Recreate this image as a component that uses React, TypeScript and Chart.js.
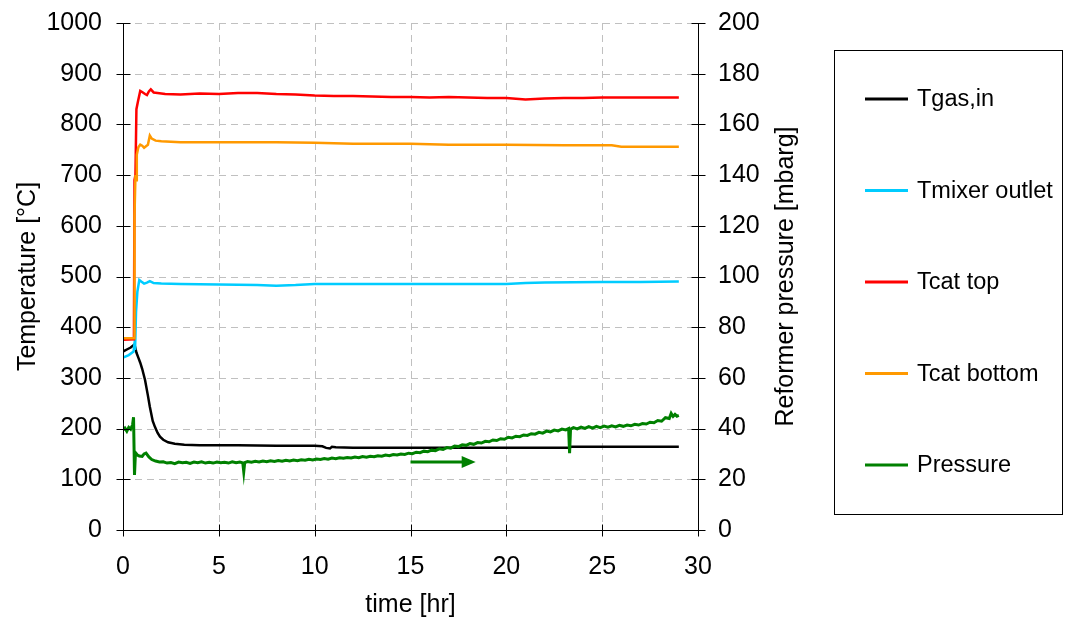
import React, { useEffect, useRef } from "react";
import { Chart, registerables } from "chart.js";

Chart.register(...registerables);

// Axis ticks
const timeTicks = [0, 5, 10, 15, 20, 25, 30];
const temperatureTicks = [0, 100, 200, 300, 400, 500, 600, 700, 800, 900, 1000];
const pressureTicks = [0, 20, 40, 60, 80, 100, 120, 140, 160, 180, 200];

// Tgas,in [°C]
const tgasTime = [0, 0.2, 0.4, 0.6, 0.7, 0.8, 0.9, 1.0, 1.15, 1.3, 1.4, 1.55, 1.67, 1.8, 1.93, 2.1, 2.35, 2.7, 3.2, 4, 6, 8, 10, 10.4, 10.6, 10.8, 10.9, 11.1, 12, 15, 18, 20, 23.2, 23.4, 25, 29];
const tgasValues = [352, 356, 360, 366, 350, 340, 330, 318, 296, 265, 243, 215, 203, 192, 184, 178, 173, 170, 168, 167, 167, 166, 166, 165, 162, 161, 164, 163, 162, 162, 162, 162, 162, 164, 164, 164];

// Tmixer outlet [°C]
const tmixerTime = [0, 0.3, 0.55, 0.6, 0.63, 0.68, 0.75, 0.85, 0.95, 1.1, 1.25, 1.4, 1.6, 2, 3, 5, 7, 8, 9, 10, 15, 20, 21, 22, 25, 27, 29];
const tmixerValues = [340, 345, 352, 368, 355, 430, 470, 493, 490, 486, 488, 491, 487, 486, 485, 484, 483, 482, 483, 485, 485, 485, 487, 488, 489, 489, 490];

// Tcat top [°C]
const tcatTopTime = [0, 0.57, 0.6, 0.65, 0.7, 0.78, 0.9, 1.0, 1.15, 1.25, 1.35, 1.45, 1.6, 1.8, 2.2, 3, 4, 5, 6, 7, 8, 9, 10, 11, 12, 13, 14, 15, 16, 17, 18, 19, 20, 21, 21.5, 22, 23, 24, 25, 26, 27, 28, 29];
const tcatTopValues = [375, 376, 690, 700, 830, 845, 866, 864, 860, 858, 865, 869, 863, 862, 860, 859, 861, 860, 862, 862, 860, 859, 857, 856, 856, 855, 854, 854, 853, 854, 853, 852, 852, 849, 850, 851, 852, 852, 853, 853, 853, 853, 853];

// Tcat bottom [°C]
const tcatBottomTime = [0, 0.58, 0.6, 0.65, 0.68, 0.72, 0.8, 0.9, 1.0, 1.1, 1.2, 1.3, 1.4, 1.5, 1.7, 2, 3, 5, 8, 10, 12, 15, 17, 20, 23, 25.5, 26, 29];
const tcatBottomValues = [378, 378, 620, 700, 690, 740, 755, 760, 758, 754, 757, 760, 778, 772, 768, 767, 765, 765, 765, 764, 762, 762, 760, 760, 759, 759, 756, 756];

// Reformer pressure [mbarg]
const pressureTime = [
  0, 0.1, 0.2, 0.3, 0.4, 0.5, 0.55, 0.6, 0.65, 0.75, 0.85, 1.0, 1.1, 1.2, 1.35, 1.5, 1.7, 1.9,
  2.1, 2.3, 2.5, 2.7, 2.9, 3.1, 3.3, 3.5, 3.7, 3.9, 4.1, 4.3, 4.5, 4.7, 4.9, 5.1, 5.3, 5.5, 5.7, 5.9,
  6.1, 6.25, 6.3, 6.35, 6.5, 6.7, 6.9, 7.1, 7.3, 7.5, 7.7, 7.9, 8.1, 8.3, 8.5, 8.7, 8.9, 9.1, 9.3,
  9.5, 9.7, 9.9, 10.1, 10.3, 10.5, 10.7, 10.9, 11.1, 11.3, 11.5, 11.7, 11.9, 12.1, 12.3, 12.5, 12.7,
  12.9, 13.1, 13.3, 13.5, 13.7, 13.9, 14.1, 14.3, 14.5, 14.7, 14.9, 15.1, 15.3, 15.5, 15.7, 15.9,
  16.1, 16.3, 16.5, 16.7, 16.9, 17.1, 17.3, 17.5, 17.7, 17.9, 18.1, 18.3, 18.5, 18.7, 18.9, 19.1,
  19.3, 19.5, 19.7, 19.9, 20.1, 20.3, 20.5, 20.7, 20.9, 21.1, 21.3, 21.5, 21.7, 21.9, 22.1, 22.3,
  22.5, 22.7, 22.9, 23.1, 23.25, 23.3, 23.35, 23.5, 23.7, 23.9, 24.1, 24.3, 24.5, 24.7, 24.9, 25.1,
  25.3, 25.5, 25.7, 25.9, 26.1, 26.3, 26.5, 26.7, 26.9, 27.1, 27.3, 27.5, 27.7, 27.9, 28.1, 28.3,
  28.5, 28.6, 28.7, 28.8, 28.9, 29.0,
];
const pressureValues = [
  39.5, 40.2, 39.0, 40.5, 39.8, 41.5, 44.5, 21.7, 30.5, 29.6, 29.2, 29.0, 30.0, 30.3, 28.8, 27.8, 27.2, 26.8,
  26.9, 26.4, 26.6, 26.2, 26.8, 26.5, 26.7, 26.3, 26.8, 26.5, 26.9, 26.4, 26.7, 26.4, 26.8, 26.5, 26.7, 26.4, 26.9, 26.5,
  26.8, 26.5, 23.0, 26.6, 27.0, 26.7, 27.1, 26.8, 27.2, 26.9, 27.3, 27.0, 27.4, 27.1, 27.5, 27.2, 27.6, 27.3, 27.7,
  27.5, 27.9, 27.6, 28.0, 27.8, 28.2, 27.9, 28.4, 28.1, 28.5, 28.3, 28.6, 28.4, 28.8, 28.5, 29.0, 28.7,
  29.1, 28.9, 29.3, 29.1, 29.6, 29.3, 29.8, 29.6, 30.0, 29.8, 30.3, 30.1, 30.7, 30.5, 31.1, 30.9,
  31.5, 31.3, 32.0, 31.8, 32.5, 32.3, 33.1, 32.9, 33.6, 33.4, 34.1, 33.8, 34.5, 34.3, 35.0, 34.8,
  35.5, 35.3, 36.0, 35.8, 36.6, 36.3, 37.0, 36.8, 37.5, 37.3, 38.0, 37.8, 38.5, 38.2, 39.0, 38.7,
  39.4, 39.1, 39.8, 39.5, 40.0, 30.3, 39.8, 40.4, 39.9, 40.6, 40.1, 40.8, 40.2, 40.9, 40.4, 41.0,
  40.6, 41.1, 40.7, 41.3, 40.9, 41.4, 41.1, 41.7, 41.4, 42.0, 41.8, 42.5, 42.3, 43.2, 42.9, 44.3,
  44.0, 46.0, 44.8, 45.6, 44.9, 45.2,
];

// Arrow pointing to the pressure axis (time [hr], mbarg)
const arrowTime = [15.0, 18.4];
const arrowPressure = 26.8;

const FONT = "'Liberation Sans', Arial, Helvetica, sans-serif";
const AXIS_FONT_SIZE = 25;
const LEGEND_FONT_SIZE = 23.5;
const GRID_COLOR = "#c0c0c0";

const toPoints = (t: number[], v: number[]) => t.map((x, i) => ({ x, y: v[i] }));

const frame = {
  id: "frame",
  beforeDatasetsDraw(chart: any) {
    const { ctx, chartArea: a, scales } = chart;
    const xs = scales.x;
    const ys = scales.y;
    ctx.save();
    ctx.strokeStyle = GRID_COLOR;
    ctx.lineWidth = 1;
    ctx.setLineDash([7, 5]);
    ctx.beginPath();
    timeTicks.forEach((t) => {
      if (t === 0 || t === 30) return;
      const px = Math.round(xs.getPixelForValue(t)) + 0.5;
      ctx.moveTo(px, a.top);
      ctx.lineTo(px, a.bottom);
    });
    temperatureTicks.forEach((v) => {
      if (v === 0) return;
      const py = Math.round(ys.getPixelForValue(v)) + 0.5;
      ctx.moveTo(a.left, py);
      ctx.lineTo(a.right, py);
    });
    ctx.stroke();
    ctx.restore();
  },
  afterDatasetsDraw(chart: any) {
    const { ctx, chartArea: a, scales } = chart;
    const xs = scales.x;
    const ys = scales.y;
    const y1 = scales.y1;
    const L = Math.round(a.left) + 0.5;
    const R = Math.round(a.right) + 0.5;
    const B = Math.round(a.bottom) + 0.5;
    const T = Math.round(a.top) + 0.5;
    ctx.save();
    ctx.strokeStyle = "#000";
    ctx.lineWidth = 1;
    ctx.setLineDash([]);
    ctx.beginPath();
    ctx.moveTo(L, T);
    ctx.lineTo(L, B);
    ctx.moveTo(R, T);
    ctx.lineTo(R, B);
    ctx.moveTo(L, B);
    ctx.lineTo(R, B);
    temperatureTicks.forEach((v) => {
      const py = Math.round(ys.getPixelForValue(v)) + 0.5;
      ctx.moveTo(L - 7, py);
      ctx.lineTo(L + 7, py);
    });
    pressureTicks.forEach((v) => {
      const py = Math.round(y1.getPixelForValue(v)) + 0.5;
      ctx.moveTo(R - 7, py);
      ctx.lineTo(R + 7, py);
    });
    timeTicks.forEach((t) => {
      const px = Math.round(xs.getPixelForValue(t)) + 0.5;
      ctx.moveTo(px, B - 6);
      ctx.lineTo(px, B + 6);
    });
    ctx.stroke();

    // arrow pointing towards the pressure axis
    const ax0 = xs.getPixelForValue(arrowTime[0]);
    const ax1 = xs.getPixelForValue(arrowTime[1]);
    const ay = y1.getPixelForValue(arrowPressure);
    ctx.strokeStyle = "#008000";
    ctx.fillStyle = "#008000";
    ctx.lineWidth = 3;
    ctx.beginPath();
    ctx.moveTo(ax0, ay);
    ctx.lineTo(ax1 - 12, ay);
    ctx.stroke();
    ctx.beginPath();
    ctx.moveTo(ax1, ay);
    ctx.lineTo(ax1 - 14, ay - 6);
    ctx.lineTo(ax1 - 14, ay + 6);
    ctx.closePath();
    ctx.fill();

    // right axis title, reading bottom to top
    ctx.fillStyle = "#000";
    ctx.font = `${AXIS_FONT_SIZE}px ${FONT}`;
    ctx.textAlign = "center";
    ctx.textBaseline = "middle";
    ctx.translate(786, (a.top + a.bottom) / 2);
    ctx.rotate(-Math.PI / 2);
    ctx.fillText("Reformer pressure [mbarg]", 0, 0);
    ctx.restore();

    // legend box
    ctx.save();
    ctx.strokeStyle = "#000";
    ctx.lineWidth = 1;
    ctx.strokeRect(834.5, 50.5, 228, 464);
    ctx.font = `${LEGEND_FONT_SIZE}px ${FONT}`;
    ctx.textAlign = "left";
    ctx.textBaseline = "middle";
    chart.data.datasets.forEach((ds: any, i: number) => {
      const y = 99 + i * 91.5;
      ctx.strokeStyle = ds.borderColor;
      ctx.lineWidth = 3;
      ctx.beginPath();
      ctx.moveTo(865, y);
      ctx.lineTo(908, y);
      ctx.stroke();
      ctx.fillStyle = "#000";
      ctx.fillText(ds.label, 917, y + 1);
    });
    ctx.restore();
  },
};

export default function App() {
  const canvasRef = useRef<HTMLCanvasElement>(null);

  useEffect(() => {
    const canvas = canvasRef.current;
    if (!canvas) return;
    const tickFont = { family: FONT, size: AXIS_FONT_SIZE };
    const plain = (v: number | string) => String(v);
    const fitVertical = (width: number) => (s: any) => {
      s.width = width;
      s.paddingTop = 0;
      s.paddingBottom = 0;
    };
    const line = (label: string, color: string, t: number[], v: number[], axis: string, order: number, width = 2.5) => ({
      label,
      data: toPoints(t, v),
      borderColor: color,
      backgroundColor: color,
      borderWidth: width,
      pointRadius: 0,
      tension: 0,
      yAxisID: axis,
      order,
    });
    const chart = new Chart(canvas, {
      type: "line",
      data: {
        datasets: [
          line("Tgas,in", "#000000", tgasTime, tgasValues, "y", 5),
          line("Tmixer outlet", "#00ccff", tmixerTime, tmixerValues, "y", 4),
          line("Tcat top", "#ff0000", tcatTopTime, tcatTopValues, "y", 3),
          line("Tcat bottom", "#ff9900", tcatBottomTime, tcatBottomValues, "y", 2),
          line("Pressure", "#008000", pressureTime, pressureValues, "y1", 1, 3),
        ],
      },
      options: {
        responsive: false,
        animation: false,
        devicePixelRatio: 1,
        layout: { padding: { top: 23, right: 265, left: 0, bottom: 0 } },
        plugins: { legend: { display: false }, tooltip: { enabled: false } },
        scales: {
          x: {
            type: "linear",
            min: 0,
            max: 30,
            afterBuildTicks: (s: any) => { s.ticks = timeTicks.map((value) => ({ value })); },
            afterFit: (s: any) => { s.height = 87; },
            grid: { display: false, drawTicks: false },
            border: { display: false },
            ticks: { font: tickFont, color: "#000", padding: 22, maxRotation: 0, callback: plain },
            title: { display: true, text: "time [hr]", font: tickFont, color: "#000", padding: { top: 0, bottom: -3 } },
          },
          y: {
            type: "linear",
            position: "left",
            min: 0,
            max: 1000,
            afterBuildTicks: (s: any) => { s.ticks = temperatureTicks.map((value) => ({ value })); },
            afterFit: fitVertical(123),
            grid: { display: false, drawTicks: false },
            border: { display: false },
            ticks: { font: tickFont, color: "#000", padding: 21, callback: plain },
            title: { display: true, text: "Temperature [°C]", font: tickFont, color: "#000", padding: { top: 13, bottom: 0 } },
          },
          y1: {
            type: "linear",
            position: "right",
            min: 0,
            max: 200,
            afterBuildTicks: (s: any) => { s.ticks = pressureTicks.map((value) => ({ value })); },
            afterFit: fitVertical(102),
            grid: { display: false, drawTicks: false },
            border: { display: false },
            ticks: { font: tickFont, color: "#000", padding: 20, callback: plain },
          },
        },
      },
      plugins: [frame],
    } as any);
    return () => chart.destroy();
  }, []);

  return (
    <div style={{ position: "absolute", left: 0, top: 0, width: 1065, height: 617, background: "#fff" }}>
      <canvas ref={canvasRef} width={1065} height={617} />
    </div>
  );
}
